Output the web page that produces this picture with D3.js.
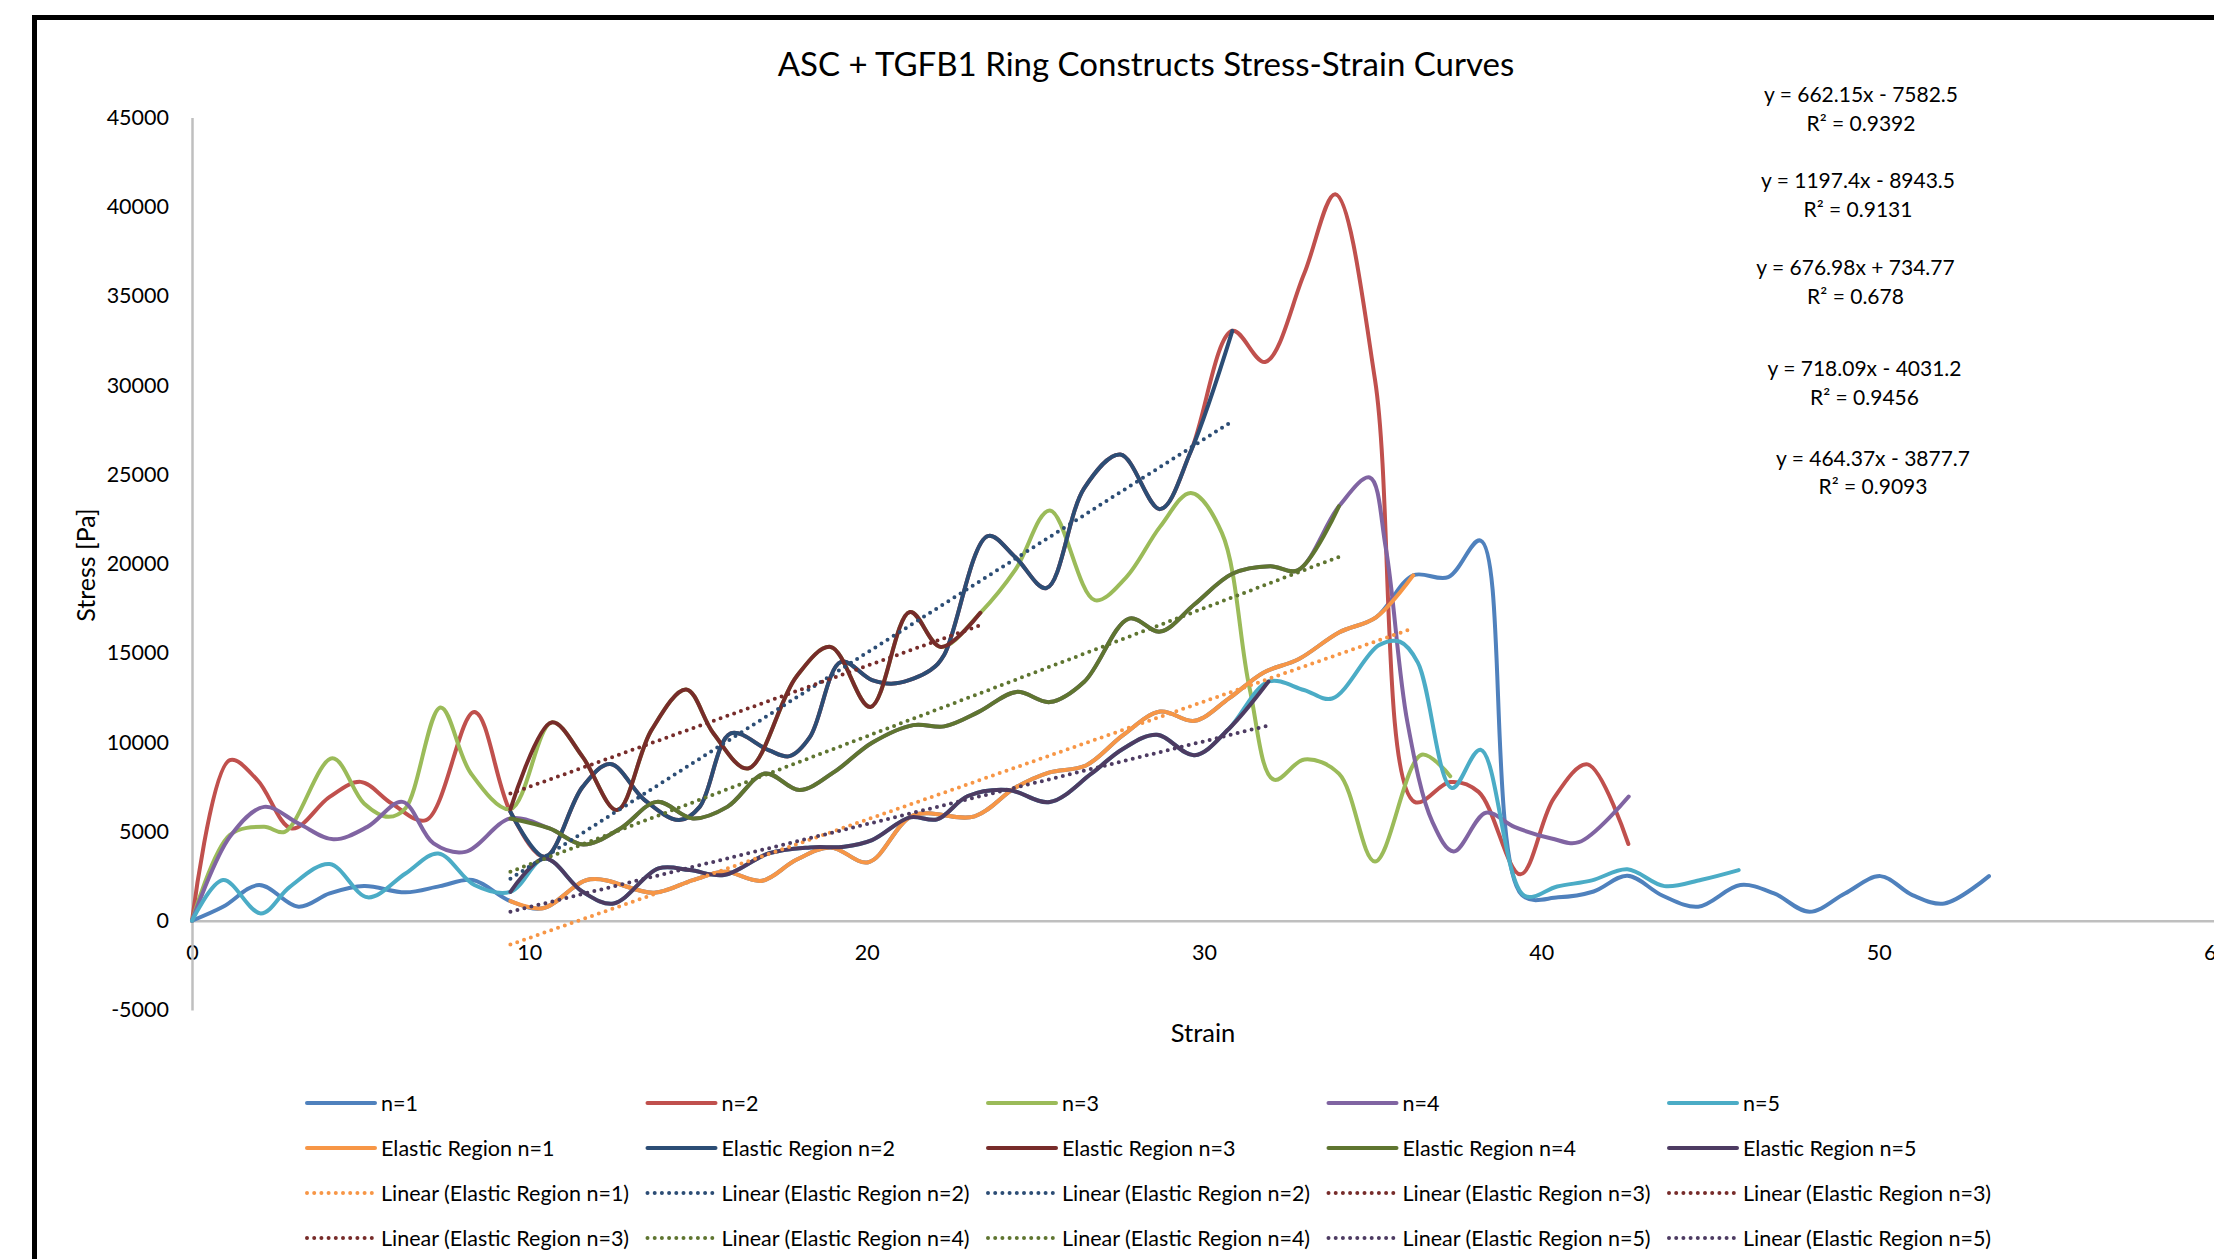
<!DOCTYPE html>
<html><head><meta charset="utf-8">
<script src="https://cdn.jsdelivr.net/npm/d3@7"></script>
<style>
body{margin:0;background:#fff;}
svg{display:block;}
text{font-family:Lato,'Open Sans',sans-serif;fill:#000;}
</style>
</head><body>
<svg id="chart" width="2214" height="1259"></svg>
<script>
// ---------- data ----------
const n1Strain=[0,0.92,1.99,3.16,4.08,5.1,6.33,7.35,8.32,9.44,10.4,11.8,13.7,14.85,15.8,16.9,17.9,18.93,20.05,21.38,23.2,24.4,25.4,26.5,27.6,28.7,29.72,30.75,31.76,32.8,34.0,35.1,36.2,37.24,38.2,39.42,40.5,41.55,42.55,43.6,44.65,45.9,46.9,47.95,49.0,50.05,51.0,51.95,53.27];
const n1Stress=[0,780,2000,790,1530,1940,1590,1940,2280,1100,700,2320,1570,2280,2740,2240,3400,4110,3280,5900,5850,7450,8300,8700,10400,11720,11200,12470,13900,14650,16150,17000,19350,19250,21300,1450,1310,1640,2520,1400,790,2000,1530,500,1530,2500,1440,970,2500];

const n2Strain=[0,1.12,1.94,2.96,4.08,5.0,5.92,6.94,8.37,9.44,10.46,11.58,12.4,13.42,14.44,15.05,15.97,17.09,17.71,18.32,19.24,20.16,20.87,21.89,22.3,23.59,24.41,25.33,26.45,27.52,28.7,29.61,30.84,31.81,32.96,33.89,35.07,36.24,37.3,38.14,39.38,40.37,41.37,42.58];
const n2Stress=[0,9000,7880,5170,6940,7780,6570,5640,11700,6100,3580,7500,8780,6760,5640,6380,10500,9560,9220,10300,14500,13480,13300,14040,14900,21550,20360,18640,24240,26120,23060,26300,33050,31300,36200,40700,30300,6660,7770,7220,2600,6850,8760,4300];

const n3Strain=[0,1.12,2.14,2.75,4.16,5.1,5.82,6.33,7.37,8.27,9.44,10.66,11.58,12.6,13.62,14.65,15.46,16.48,17.91,18.93,20.11,21.28,22.2,23.37,24.41,25.43,26.76,27.68,28.7,29.61,30.53,31.35,32.07,32.98,34.0,35.07,36.45,37.3];
const n3Stress=[0,4800,5260,4980,9100,6570,5820,6300,11950,8250,6250,11110,9180,6200,10680,12960,10490,8530,13660,15340,11980,17300,15340,17250,19670,22990,17960,19210,22080,23970,21730,13040,7900,9040,8240,3320,9300,8100];

const n4Strain=[0,1.12,2.14,3.16,4.19,5.2,6.24,7.16,8.1,9.44,10.6,11.6,12.7,13.78,14.85,15.87,16.99,18.01,19.04,20.16,21.38,22.3,23.32,24.44,25.43,26.45,27.78,28.7,29.72,30.84,31.96,32.78,34.0,34.91,35.39,36.03,36.77,37.4,38.36,39.2,40.3,41.11,42.59];
const n4Stress=[0,4700,6380,5450,4560,5260,6660,4330,3860,5730,5170,4270,5170,6660,5730,6380,8250,7320,8340,9970,10960,10890,11700,12820,12250,13390,16930,16200,17730,19440,19860,19630,23220,24830,20870,11120,5540,3880,6050,5260,4610,4400,6960];

const n5Strain=[0,0.92,2.04,2.9,4.08,5.21,6.33,7.3,8.37,9.44,10.46,11.58,12.5,13.83,14.75,15.77,17.09,18.32,19.33,20.16,21.28,22.09,23.0,24.2,25.43,26.66,27.58,28.6,29.72,30.74,31.91,32.96,33.8,35.18,35.81,36.34,37.35,38.2,39.5,40.47,41.5,42.55,43.65,44.75,45.85];
const n5Stress=[0,2280,410,1900,3180,1310,2650,3770,2000,1620,3490,1620,970,2930,2840,2560,3770,4110,4150,4520,5790,5680,6990,7330,6650,8240,9610,10420,9270,10760,13400,12930,12450,15430,15630,14460,7440,9580,1400,1920,2260,2880,1940,2300,2840];

// elastic region strain ranges (per sample)
const elasticFrom=[9.44,9.44,9.44,9.44,9.44];
const elasticTo=[36.2,30.84,23.37,34.0,31.91];

// linear trendline coefficients shown on chart
const trendSlope=[662.15,1197.4,676.98,718.09,464.37];
const trendIntercept=[-7582.5,-8943.5,734.77,-4031.2,-3877.7];
const trendR2=[0.9392,0.9131,0.678,0.9456,0.9093];

const seriesNames=["n=1","n=2","n=3","n=4","n=5"];
const elasticNames=["Elastic Region n=1","Elastic Region n=2","Elastic Region n=3","Elastic Region n=4","Elastic Region n=5"];
const trendLegendSeries=[0,1,1,2,2,2,3,3,4,4];

const xTicks=[0,10,20,30,40,50,60];
const yTicks=[-5000,0,5000,10000,15000,20000,25000,30000,35000,40000,45000];

const mainColors=["#4F81BD","#C0504D","#9BBB59","#8064A2","#4BACC6"];
const elasticColors=["#F79646","#2C4D75","#772C2A","#5F7530","#4D3B62"];

const strains=[n1Strain,n2Strain,n3Strain,n4Strain,n5Strain];
const stresses=[n1Stress,n2Stress,n3Stress,n4Stress,n5Stress];

// ---------- chart ----------
const svg=d3.select("#chart");
svg.append("rect").attr("x",0).attr("y",0).attr("width",2214).attr("height",1259).attr("fill","#fff");
svg.append("rect").attr("x",34.5).attr("y",17.5).attr("width",3000).attr("height",3000)
  .attr("fill","none").attr("stroke","#000").attr("stroke-width",5);

const x=d3.scaleLinear().domain([0,60]).range([192,2216]);
const y=d3.scaleLinear().domain([-5000,45000]).range([1010,117.5]);

const plainNum=d=>String(d);
const axisColor="#BFBFBF";
const gx=svg.append("g").attr("transform",`translate(0,${y(0)})`)
  .call(d3.axisBottom(x).tickValues(xTicks).tickFormat(plainNum).tickSize(0).tickSizeOuter(0).tickPadding(24));
const gy=svg.append("g").attr("transform",`translate(${x(0)},0)`)
  .call(d3.axisLeft(y).tickValues(yTicks).tickFormat(plainNum).tickSize(0).tickSizeOuter(0).tickPadding(23));
[gx,gy].forEach(g=>{
  g.select(".domain").attr("stroke",axisColor).attr("stroke-width",2.5);
  g.selectAll("text").style("font-family","Lato,'Open Sans',sans-serif").style("font-size","21.5px").attr("fill","#000");
});

const line=d3.line().x(d=>x(d[0])).y(d=>y(d[1])).curve(d3.curveCatmullRom.alpha(0.5));
const pts=i=>strains[i].map((s,k)=>[s,stresses[i][k]]);

const plot=svg.append("g");
for(let i=0;i<5;i++){
  plot.append("path").datum(pts(i)).attr("d",line).attr("fill","none")
    .attr("stroke",mainColors[i]).attr("stroke-width",4).attr("stroke-linejoin","round").attr("stroke-linecap","round");
}
for(let i=0;i<5;i++){
  const e=pts(i).filter(p=>p[0]>=elasticFrom[i]-1e-9&&p[0]<=elasticTo[i]+1e-9);
  plot.append("path").datum(e).attr("d",line).attr("fill","none")
    .attr("stroke",elasticColors[i]).attr("stroke-width",4).attr("stroke-linejoin","round").attr("stroke-linecap","round");
}
for(let i=0;i<5;i++){
  const xs=[elasticFrom[i],elasticTo[i]];
  const tl=xs.map(v=>[v,trendSlope[i]*v+trendIntercept[i]]);
  plot.append("path").datum(tl).attr("d",d3.line().x(d=>x(d[0])).y(d=>y(d[1])))
    .attr("fill","none").attr("stroke",elasticColors[i]).attr("stroke-width",4)
    .attr("stroke-dasharray","0,7.2").attr("stroke-linecap","round");
}

// title & axis titles
svg.append("text").attr("x",1146).attr("y",63).attr("text-anchor","middle").attr("dominant-baseline","central")
  .style("font-size","33px").text("ASC + TGFB1 Ring Constructs Stress-Strain Curves");
svg.append("text").attr("transform","translate(85,565) rotate(-90)").attr("text-anchor","middle").attr("dominant-baseline","central")
  .style("font-size","25px").text("Stress [Pa]");
svg.append("text").attr("x",1203).attr("y",1032).attr("text-anchor","middle").attr("dominant-baseline","central")
  .style("font-size","25.5px").text("Strain");

// trendline equations
const eqPos=[[1861,93,122],[1858,179,208],[1855.5,266,295],[1864.5,367,396],[1873,457,485]];
const fmtEq=i=>`y = ${trendSlope[i]}x ${trendIntercept[i]<0?"-":"+"} ${Math.abs(trendIntercept[i])}`;
for(let i=0;i<5;i++){
  svg.append("text").attr("x",eqPos[i][0]).attr("y",eqPos[i][1]).attr("text-anchor","middle").attr("dominant-baseline","central")
    .style("font-size","21px").text(fmtEq(i));
  svg.append("text").attr("x",eqPos[i][0]).attr("y",eqPos[i][2]).attr("text-anchor","middle").attr("dominant-baseline","central")
    .style("font-size","21px").text(`R² = ${trendR2[i]}`);
}

// legend
const legendItems=[];
for(let i=0;i<5;i++) legendItems.push({label:seriesNames[i],color:mainColors[i],dot:false});
for(let i=0;i<5;i++) legendItems.push({label:elasticNames[i],color:elasticColors[i],dot:false});
trendLegendSeries.forEach(i=>legendItems.push({label:`Linear (${elasticNames[i]})`,color:elasticColors[i],dot:true}));
const lg=svg.append("g");
legendItems.forEach((it,k)=>{
  const c=k%5, r=Math.floor(k/5);
  const lx=305+c*340.5, ly=1103+r*45;
  const l=lg.append("line").attr("x1",lx+2).attr("x2",lx+70).attr("y1",ly).attr("y2",ly)
    .attr("stroke",it.color).attr("stroke-width",4).attr("stroke-linecap","round");
  if(it.dot) l.attr("stroke-dasharray","0,7.2");
  lg.append("text").attr("x",lx+76).attr("y",ly).attr("dominant-baseline","central")
    .style("font-size","21.5px").text(it.label);
});
</script>
</body></html>
